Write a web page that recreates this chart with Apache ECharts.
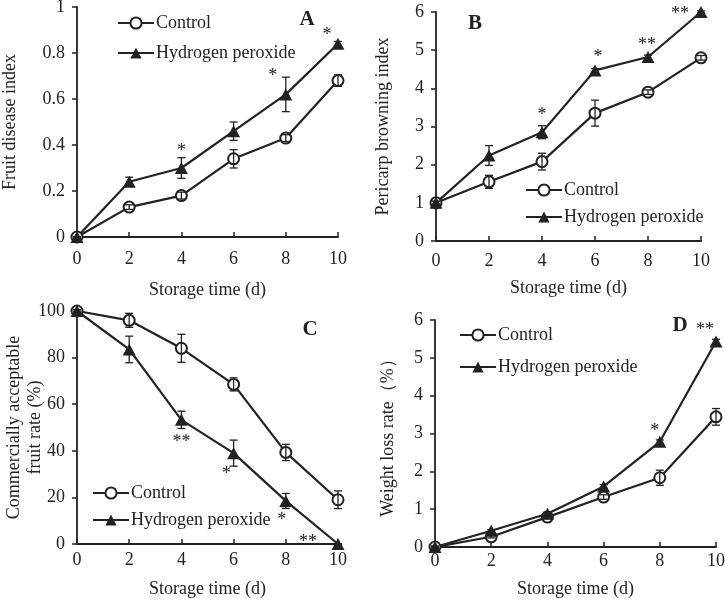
<!DOCTYPE html>
<html><head><meta charset="utf-8">
<script src="https://cdn.jsdelivr.net/npm/echarts@6/dist/echarts.min.js"></script>
<style>html,body{margin:0;padding:0;background:#fff}#c{width:725px;height:602px}</style>
</head><body><div id="c"></div>
<script>
// ---- data ----
const days = [0, 2, 4, 6, 8, 10];
const xTickLabels = ['0', '2', '4', '6', '8', '10'];
const seriesNames = ['Control', 'Hydrogen peroxide'];

// A: fruit disease index
const diseaseControl = [0, 0.13, 0.18, 0.34, 0.43, 0.68];
const diseaseControlErr = [0, 0.01, 0.015, 0.04, 0.015, 0.025];
const diseaseH2O2 = [0, 0.24, 0.30, 0.46, 0.62, 0.84];
const diseaseH2O2Err = [0, 0.02, 0.045, 0.04, 0.075, 0.01];
const diseaseSig = ['', '', '*', '', '*', '*'];

// B: pericarp browning index
const browningControl = [1, 1.55, 2.08, 3.35, 3.9, 4.8];
const browningControlErr = [0.04, 0.17, 0.22, 0.34, 0.06, 0.06];
const browningH2O2 = [1, 2.24, 2.85, 4.47, 4.82, 6.0];
const browningH2O2Err = [0.04, 0.26, 0.17, 0.05, 0.05, 0.03];
const browningSig = ['', '', '*', '*', '**', '**'];

// C: commercially acceptable fruit rate (%)
const acceptControl = [100, 96, 84, 68.5, 39.3, 19];
const acceptControlErr = [0.5, 3, 6, 2.8, 3.5, 3.8];
const acceptH2O2 = [100, 83.5, 53.3, 39, 18.5, 0];
const acceptH2O2Err = [0.5, 5.7, 3.7, 5.6, 3.2, 0];
const acceptSig = ['', '', '**', '*', '*', '**'];

// D: weight loss rate (%)
const weightControl = [0, 0.27, 0.79, 1.32, 1.83, 3.44];
const weightControlErr = [0.02, 0.03, 0.04, 0.06, 0.2, 0.22];
const weightH2O2 = [0, 0.43, 0.88, 1.6, 2.78, 5.43];
const weightH2O2Err = [0.02, 0.03, 0.04, 0.05, 0.05, 0.06];
const weightSig = ['', '', '', '', '*', '**'];

// ---- layout / style ----
const INK = '#222';
const FONT = '"Liberation Serif", "Times New Roman", serif';
const panels = [
  { letter: 'A', letterPos: [307, 20], yName: 'Fruit disease index', yMax: 1, yInt: 0.2,
    ctrl: diseaseControl, ctrlErr: diseaseControlErr, h2: diseaseH2O2, h2Err: diseaseH2O2Err, sig: diseaseSig,
    sigOff: { 2: [0, -21], 4: [-13, -22], 5: [-11, -13] },
    grid: { left: 77, right: 387, top: 7, bottom: 365 }, xMargin: 13, xGap: 44, yGap: 56,
    legend: { left: 117, top: 14, itemGap: 12 } },
  { letter: 'B', letterPos: [475, 24], yName: 'Pericarp browning index', yMax: 6, yInt: 1,
    ctrl: browningControl, ctrlErr: browningControlErr, h2: browningH2O2, h2Err: browningH2O2Err, sig: browningSig,
    sigOff: { 2: [0, -21], 3: [3, -17], 4: [-1, -16], 5: [-21, -2] },
    grid: { left: 436, right: 24, top: 12, bottom: 361 }, xMargin: 11, xGap: 38, yGap: 42,
    legend: { left: 525, top: 181, itemGap: 9 } },
  { letter: 'C', letterPos: [310, 330], yName: 'Commercially acceptable\nfruit rate (%)', yMax: 100, yInt: 20,
    ctrl: acceptControl, ctrlErr: acceptControlErr, h2: acceptH2O2, h2Err: acceptH2O2Err, sig: acceptSig,
    sigOff: { 2: [0, 18], 3: [-7, 17], 4: [-4, 15], 5: [-30, -6] },
    grid: { left: 77, right: 387, top: 311, bottom: 58 }, xMargin: 7, xGap: 36, yGap: 31,
    legend: { left: 92, top: 484, itemGap: 9 } },
  { letter: 'D', letterPos: [680, 326], yName: 'Weight loss rate（%）', yMax: 6, yInt: 1,
    ctrl: weightControl, ctrlErr: weightControlErr, h2: weightH2O2, h2Err: weightH2O2Err, sig: weightSig,
    sigOff: { 4: [-5, -15], 5: [-11, -15] },
    grid: { left: 435, right: 9, top: 320, bottom: 55 }, xMargin: 5, xGap: 33, yGap: 36,
    legend: { left: 459, top: 326, itemGap: 14 } }
];

const grids = [], xAxes = [], yAxes = [], series = [], legends = [], graphics = [];

function errRender(params, api) {
  const x = api.value(0);
  const lo = api.coord([x, api.value(1)]);
  const hi = api.coord([x, api.value(2)]);
  const w = 4;
  const st = { stroke: INK, lineWidth: 1.3 };
  return { type: 'group', children: [
    { type: 'line', shape: { x1: lo[0], y1: lo[1], x2: hi[0], y2: hi[1] }, style: st },
    { type: 'line', shape: { x1: lo[0] - w, y1: lo[1], x2: lo[0] + w, y2: lo[1] }, style: st },
    { type: 'line', shape: { x1: hi[0] - w, y1: hi[1], x2: hi[0] + w, y2: hi[1] }, style: st }
  ] };
}

panels.forEach((p, i) => {
  grids.push(Object.assign({ containLabel: false, outerBoundsMode: 'none' }, p.grid));
  xAxes.push({
    gridIndex: i, type: 'value', min: 0, max: 10, interval: 2,
    name: 'Storage time (d)', nameLocation: 'middle', nameGap: p.xGap, nameMoveOverlap: false,
    nameTextStyle: { fontFamily: FONT, fontSize: 18, color: INK },
    axisLine: { show: true, onZero: false, lineStyle: { color: INK, width: 1.8 } },
    axisTick: { show: true, inside: true, length: 5, lineStyle: { color: INK, width: 1.5 } },
    axisLabel: { fontFamily: FONT, fontSize: 18, color: INK, margin: p.xMargin,
      formatter: v => xTickLabels[days.indexOf(v)] },
    splitLine: { show: false }
  });
  yAxes.push({
    gridIndex: i, type: 'value', min: 0, max: p.yMax, interval: p.yInt,
    name: p.yName, nameLocation: 'middle', nameGap: p.yGap, nameRotate: 90, nameMoveOverlap: false,
    nameTextStyle: { fontFamily: FONT, fontSize: 18, color: INK, lineHeight: 21 },
    axisLine: { show: true, onZero: false, lineStyle: { color: INK, width: 1.8 } },
    axisTick: { show: true, inside: false, length: 5, lineStyle: { color: INK, width: 1.5 } },
    axisLabel: { fontFamily: FONT, fontSize: 18, color: INK, margin: 12 },
    splitLine: { show: false }
  });
  series.push({
    name: seriesNames[0], type: 'line', xAxisIndex: i, yAxisIndex: i,
    data: days.map((d, k) => [d, p.ctrl[k]]),
    symbol: 'emptyCircle', symbolSize: 11, showAllSymbol: true,
    lineStyle: { color: INK, width: 2.2 },
    itemStyle: { color: INK, borderColor: INK, borderWidth: 1.6 },
    z: 3, animation: false
  });
  series.push({
    name: seriesNames[1], type: 'line', xAxisIndex: i, yAxisIndex: i,
    data: days.map((d, k) => [d, p.h2[k]]),
    symbol: 'triangle', symbolSize: [13, 12],
    lineStyle: { color: INK, width: 2.2 },
    itemStyle: { color: INK },
    z: 3, animation: false
  });
  [[p.ctrl, p.ctrlErr], [p.h2, p.h2Err]].forEach(([vals, errs]) => {
    series.push({
      type: 'custom', xAxisIndex: i, yAxisIndex: i, renderItem: errRender,
      data: days.map((d, k) => [d, vals[k] - errs[k], vals[k] + errs[k]]),
      encode: { x: 0, y: [1, 2] }, z: 4, silent: true, animation: false
    });
  });
  series.push({
    type: 'custom', xAxisIndex: i, yAxisIndex: i,
    data: days.map((d, k) => [d, p.h2[k], k]).filter(r => p.sig[r[2]]),
    encode: { x: 0, y: 1 }, z: 5, silent: true, animation: false, clip: false,
    renderItem: (params, api) => {
      const k = api.value(2);
      const c = api.coord([api.value(0), api.value(1)]);
      const off = p.sigOff[k] || [0, -18];
      return { type: 'text', x: c[0] + off[0], y: c[1] + off[1] + 4,
        style: { text: p.sig[k], fill: INK, font: '18px ' + FONT, textAlign: 'center', textVerticalAlign: 'middle' } };
    }
  });
  legends.push({
    orient: 'vertical', left: p.legend.left, top: p.legend.top, itemGap: p.legend.itemGap,
    itemWidth: 36, itemHeight: 14, padding: 0,
    data: seriesNames,
    textStyle: { fontFamily: FONT, fontSize: 18, color: INK, padding: [0, 0, 0, -3] },
    selectedMode: false
  });
  graphics.push({ type: 'text', x: p.letterPos[0], y: p.letterPos[1],
    style: { text: p.letter, font: 'bold 21px ' + FONT, fill: INK, textAlign: 'center', textVerticalAlign: 'middle' } });
});

const chart = echarts.init(document.getElementById('c'), null, { renderer: 'canvas' });
chart.setOption({
  backgroundColor: '#fff', animation: false,
  grid: grids, xAxis: xAxes, yAxis: yAxes, series: series, legend: legends, graphic: graphics
});
</script></body></html>
